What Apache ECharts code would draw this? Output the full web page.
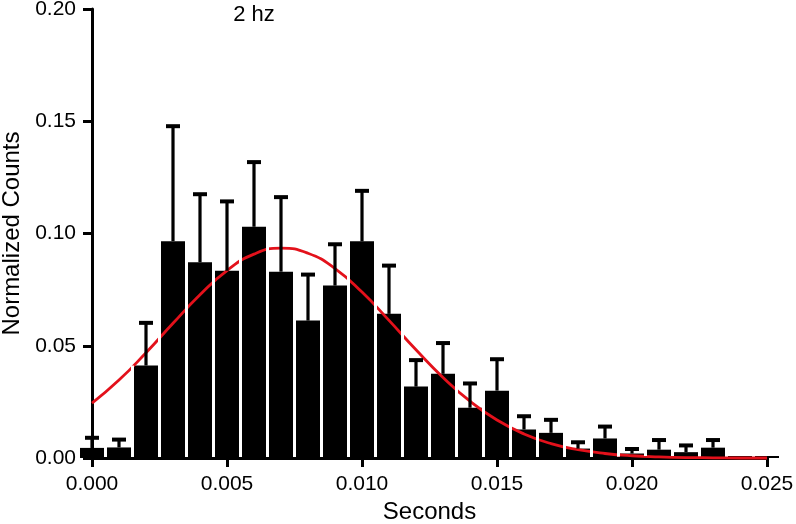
<!DOCTYPE html>
<html>
<head>
<meta charset="utf-8">
<script src="https://cdn.jsdelivr.net/npm/echarts@6/dist/echarts.min.js"></script>
<style>
    html, body { margin: 0; padding: 0; background: #fff; }
    #chart { width: 796px; height: 524px; }
</style>
</head>
<body>
<div id="chart"></div>
<script>
// bin centres (seconds)
var bins = [0.000, 0.001, 0.002, 0.003, 0.004, 0.005, 0.006, 0.007, 0.008, 0.009,
            0.010, 0.011, 0.012, 0.013, 0.014, 0.015, 0.016, 0.017, 0.018, 0.019,
            0.020, 0.021, 0.022, 0.023, 0.024, 0.025];
// normalized counts (bar heights)
var counts = [0.0045, 0.0047, 0.0412, 0.0966, 0.0872, 0.0834, 0.1030, 0.0830, 0.0612, 0.0768,
              0.0965, 0.0642, 0.0318, 0.0375, 0.0224, 0.0300, 0.0127, 0.0112, 0.0042, 0.0087,
              0.0020, 0.0037, 0.0026, 0.0046, 0.0009, 0.0009];
// top of error bar (mean + error)
var errTop = [0.0090, 0.0082, 0.0602, 0.1478, 0.1175, 0.1143, 0.1318, 0.1162, 0.0817, 0.0952,
              0.1190, 0.0857, 0.0436, 0.0512, 0.0332, 0.0440, 0.0186, 0.0170, 0.0070, 0.0140,
              0.0040, 0.0080, 0.0056, 0.0080, null, null];
// gaussian fit
var fitX = [0.000, 0.001, 0.002, 0.003, 0.004, 0.005, 0.006, 0.007, 0.008, 0.009,
            0.010, 0.011, 0.012, 0.013, 0.014, 0.015, 0.016, 0.017, 0.018, 0.019,
            0.020, 0.021, 0.022, 0.023, 0.024, 0.025];
var fitY = [0.0244, 0.0347, 0.0469, 0.0600, 0.0727, 0.0835, 0.0908, 0.0935, 0.0912, 0.0844,
            0.0739, 0.0613, 0.0482, 0.0359, 0.0253, 0.0169, 0.0107, 0.0064, 0.0037, 0.0020,
            0.0010, 0.0005, 0.0002, 0.0001, 0.0000, 0.0000];

var barData = bins.map(function (x, i) { return [x, counts[i]]; });
var errData = [];
bins.forEach(function (x, i) {
    if (errTop[i] != null) errData.push([x, counts[i], errTop[i]]);
});
var fitData = fitX.map(function (x, i) { return [x, fitY[i]]; });

var font = 'Liberation Sans, Arial, Helvetica, sans-serif';
var myChart = echarts.init(document.getElementById('chart'));
var option = {
    animation: false,
    backgroundColor: '#fff',
    grid: { left: 92, right: 29, top: 9, bottom: 66, containLabel: false, outerBoundsMode: 'none' },
    graphic: [{
        type: 'text',
        x: 254, y: 15,
        style: { text: '2 hz', fill: '#000', font: '22px ' + font, textAlign: 'center', textVerticalAlign: 'middle' }
    }],
    xAxis: {
        type: 'value',
        min: 0, max: 0.025, interval: 0.005,
        name: 'Seconds',
        nameLocation: 'middle',
        nameGap: 42,
        nameTextStyle: { color: '#000', fontSize: 24, fontFamily: font },
        axisLine: { lineStyle: { color: '#000', width: 3 } },
        axisTick: { length: 9, lineStyle: { color: '#000', width: 3 } },
        axisLabel: {
            color: '#000', fontSize: 21, fontFamily: font, margin: 16,
            formatter: function (v) { return v.toFixed(3); }
        },
        splitLine: { show: false }
    },
    yAxis: {
        type: 'value',
        min: 0, max: 0.2, interval: 0.05,
        name: 'Normalized Counts',
        nameLocation: 'middle',
        nameGap: 67,
        nameTextStyle: { color: '#000', fontSize: 24, fontFamily: font },
        axisLine: { show: true, lineStyle: { color: '#000', width: 3 } },
        axisTick: { show: true, length: 9, lineStyle: { color: '#000', width: 3 } },
        axisLabel: {
            color: '#000', fontSize: 21, fontFamily: font, margin: 16,
            formatter: function (v) { return v.toFixed(2); }
        },
        splitLine: { show: false }
    },
    series: [
        {
            name: 'counts',
            type: 'custom',
            clip: false,
            z: 2,
            renderItem: function (params, api) {
                var base = api.coord([api.value(0), 0]);
                var top = api.coord([api.value(0), api.value(1)]);
                return {
                    type: 'rect',
                    shape: { x: base[0] - 12, y: top[1], width: 24, height: base[1] - top[1] },
                    style: { fill: '#000' }
                };
            },
            data: barData
        },
        {
            name: 'fit',
            type: 'line',
            smooth: true,
            showSymbol: false,
            clip: false,
            lineStyle: { color: '#e3111b', width: 2.8 },
            z: 3,
            data: fitData
        },
        {
            // white gaps between bars, drawn over the fit line
            name: 'gaps',
            type: 'custom',
            clip: false,
            z: 4,
            renderItem: function (params, api) {
                var base = api.coord([api.value(0), 0]);
                var top = api.coord([api.value(0), api.value(1)]);
                var h = base[1] - top[1] - 2;
                if (h <= 0) return null;
                return {
                    type: 'group',
                    children: [
                        { type: 'rect', shape: { x: base[0] - 15, y: top[1], width: 3, height: h }, style: { fill: '#fff' } },
                        { type: 'rect', shape: { x: base[0] + 12, y: top[1], width: 3, height: h }, style: { fill: '#fff' } }
                    ]
                };
            },
            data: barData
        },
        {
            name: 'error',
            type: 'custom',
            clip: false,
            z: 5,
            renderItem: function (params, api) {
                var p0 = api.coord([api.value(0), api.value(1)]);
                var p1 = api.coord([api.value(0), api.value(2)]);
                return {
                    type: 'group',
                    children: [
                        { type: 'line', shape: { x1: p0[0], y1: p0[1], x2: p1[0], y2: p1[1] }, style: { stroke: '#000', lineWidth: 3.2 } },
                        { type: 'line', shape: { x1: p1[0] - 7, y1: p1[1], x2: p1[0] + 7, y2: p1[1] }, style: { stroke: '#000', lineWidth: 4 } }
                    ]
                };
            },
            data: errData
        }
    ]
};
myChart.setOption(option, true);
window.addEventListener('resize', function () { myChart.resize(); });
</script>
</body>
</html>
